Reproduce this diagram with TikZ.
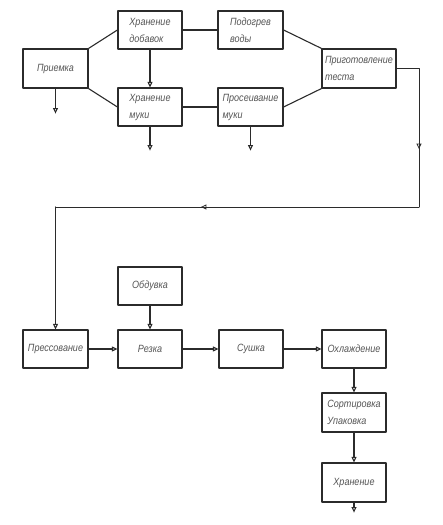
\documentclass[tikz,border=0pt]{standalone}
\usepackage{fontspec}
\setmainfont{Liberation Sans}[FakeStretch=0.86]
\usetikzlibrary{arrows.meta,positioning,decorations.markings}
\definecolor{ink}{HTML}{2B2B2B}
\definecolor{labelgray}{HTML}{555555}
\tikzset{
    every picture/.style={line cap=round,line join=round},
    stagebox/.style={draw=ink,fill=white,line width=1.2pt,
      minimum width=64pt,minimum height=38pt,inner sep=1.5pt,
      font=\fontsize{10.5}{17}\selectfont\itshape,text=labelgray,align=left},
    flowline/.style={draw=ink,line width=1.1pt},
    flowarrow/.style={flowline,-{Triangle[open,length=5.5pt,width=5pt]}},
    midarrow/.style={postaction={decorate},decoration={markings,
      mark=at position #1 with {\arrow{Triangle[open,length=5.5pt,width=5pt]}}}}
}
\begin{document}
\begin{tikzpicture}[x=1pt,y=1pt]
  \useasboundingbox (0,0) rectangle (442,525);
  % upper part: raw materials and dough
  \node[stagebox,minimum width=65pt,minimum height=39pt] (priem) at (55.5,456.5) {Приемка};
  \node[stagebox] (dobav) at (150,495) {Хранение\\добавок};
  \node[stagebox] (muka) at (150,418) {Хранение\\муки};
  \node[stagebox,minimum width=65pt] (voda) at (250.5,495) {Подогрев\\воды};
  \node[stagebox,minimum width=65pt] (prosev) at (250.5,418) {Просеивание\\муки};
  \node[stagebox,minimum width=74pt,minimum height=39pt] (testo) at (359,456.5) {Приготовление\\теста};
  \draw[flowline] (priem.north east) -- (dobav.west);
  \draw[flowline] (priem.south east) -- (muka.west);
  \draw[flowline] (dobav.east) -- (voda.west);
  \draw[flowline] (muka.east) -- (prosev.west);
  \draw[flowline] (voda.east) -- (testo.north west);
  \draw[flowline] (prosev.east) -- (testo.south west);
  \draw[flowarrow] (dobav.south) -- (muka.north);
  \coordinate[below=25pt of priem.south] (priemout);
  \coordinate[below=24pt of muka.south] (mukaout);
  \coordinate[below=24pt of prosev.south] (prosevout);
  \draw[flowarrow] (priem.south) -- (priemout);
  \draw[flowarrow] (muka.south) -- (mukaout);
  \draw[flowarrow] (prosev.south) -- (prosevout);
  % return line to pressing
  \coordinate (turnA) at (419,318);
  \coordinate (turnB) at (55.5,318);
  \draw[flowline,line width=0.8pt,midarrow=0.64] (testo.east) -| (turnA);
  \draw[flowline,line width=0.8pt,midarrow=0.6] (turnA) -- (turnB);
  % lower part: forming and packing
  \node[stagebox,minimum width=65pt] (press) at (55.5,176) {Прессование};
  \node[stagebox] (rezka) at (150,176) {Резка};
  \node[stagebox] (obduv) at (150,239) {Обдувка};
  \node[stagebox] (sushka) at (251,176) {Сушка};
  \node[stagebox] (ohlazh) at (354,176) {Охлаждение};
  \node[stagebox,minimum height=39pt] (sort) at (354,112.5) {Сортировка\\Упаковка};
  \node[stagebox,minimum height=39pt] (hran) at (354,42.5) {Хранение};
  \draw[flowarrow] (turnB) -- (press.north);
  \draw[flowarrow] (obduv.south) -- (rezka.north);
  \draw[flowarrow] (press.east) -- (rezka.west);
  \draw[flowarrow] (rezka.east) -- (sushka.west);
  \draw[flowarrow] (sushka.east) -- (ohlazh.west);
  \draw[flowarrow] (ohlazh.south) -- (sort.north);
  \draw[flowarrow] (sort.south) -- (hran.north);
  \coordinate[below=10pt of hran.south] (hranout);
  \draw[flowarrow] (hran.south) -- (hranout);
\end{tikzpicture}
\end{document}
